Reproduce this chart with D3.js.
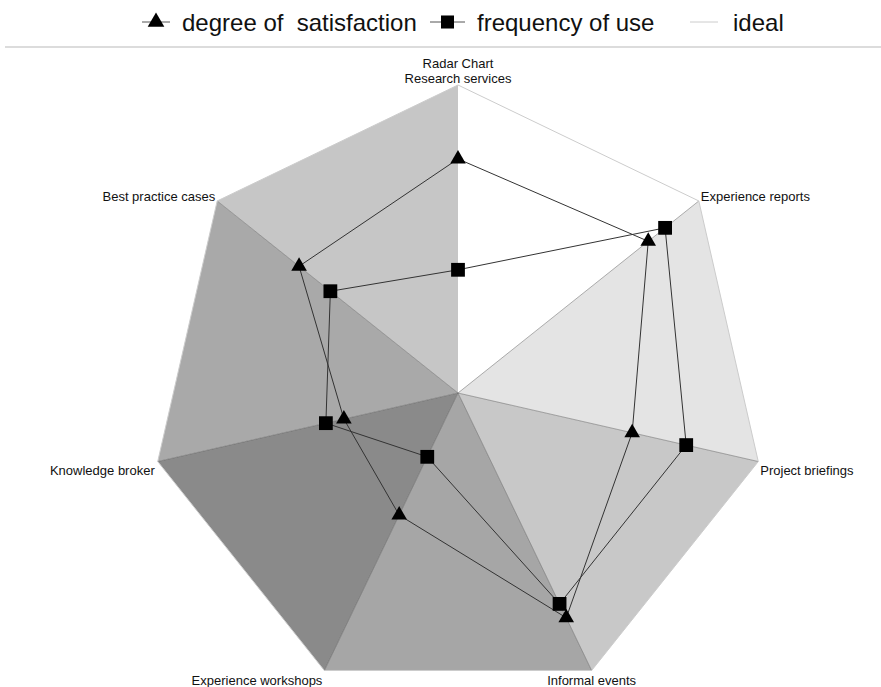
<!DOCTYPE html>
<html>
<head>
<meta charset="utf-8">
<script src="https://cdn.jsdelivr.net/npm/d3@7"></script>
<style>
  html, body { margin: 0; padding: 0; background: #fff; }
  svg { display: block; font-family: "Liberation Sans", Arial, sans-serif; }
  text { white-space: pre; }
</style>
</head>
<body>
<svg id="chart" width="881" height="687"></svg>
<script>
// Radar axes, clockwise from the top
const categories = [
  "Research services", "Experience reports", "Project briefings",
  "Informal events", "Experience workshops", "Knowledge broker",
  "Best practice cases"
];
const satisfaction = [76, 79, 58, 81, 44, 38, 66];
const frequency    = [40, 86, 76, 76, 23, 44, 53];
const ideal        = [100, 100, 100, 100, 100, 100, 100];
const seriesNames  = ["degree of  satisfaction", "frequency of use", "ideal"];
const valueDomain  = [0, 100];

// Gray shade of each wedge, starting with the wedge after each axis
const wedgeFill = ["#ffffff", "#e4e4e4", "#c8c8c8", "#a6a6a6", "#8a8a8a", "#a9a9a9", "#c6c6c6"];

const svg = d3.select("#chart");
const cx = 458, cy = 393, R = 308;
const n = categories.length;

const r = d3.scaleLinear().domain(valueDomain).range([0, R]);
const angle = d3.scaleLinear().domain([0, n]).range([0, 2 * Math.PI]);
const pt = (i, v) => d3.pointRadial(angle(i), r(v));

const g = svg.append("g").attr("transform", `translate(${cx},${cy})`);

// Wedges between neighbouring axes, out to the ideal value
g.selectAll("path.wedge")
  .data(d3.range(n))
  .join("path")
  .attr("class", "wedge")
  .attr("d", i => {
    const a = pt(i, ideal[i]), b = pt((i + 1) % n, ideal[(i + 1) % n]);
    return `M0,0L${a[0]},${a[1]}L${b[0]},${b[1]}Z`;
  })
  .attr("fill", (i) => wedgeFill[i])
  .attr("stroke", "none");

// Spokes
g.selectAll("line.spoke")
  .data(d3.range(1, n))
  .join("line")
  .attr("class", "spoke")
  .attr("x1", 0).attr("y1", 0)
  .attr("x2", i => pt(i, ideal[i])[0])
  .attr("y2", i => pt(i, ideal[i])[1])
  .attr("stroke", "#555")
  .attr("stroke-opacity", 0.45)
  .attr("stroke-width", 1);

// Ideal outline
const lineRadial = d3.lineRadial()
  .angle((d, i) => angle(i))
  .radius(d => r(d))
  .curve(d3.curveLinearClosed);

g.append("path")
  .attr("d", lineRadial(ideal))
  .attr("fill", "none")
  .attr("stroke", "#cccccc")
  .attr("stroke-width", 1);

// Data series
const series = [
  { values: satisfaction, symbol: d3.symbolTriangle, size: 105 },
  { values: frequency, symbol: d3.symbolSquare, size: 190 }
];

series.forEach(s => {
  g.append("path")
    .attr("d", lineRadial(s.values))
    .attr("fill", "none")
    .attr("stroke", "#333")
    .attr("stroke-width", 1);
});
series.forEach(s => {
  g.selectAll(null)
    .data(s.values)
    .join("path")
    .attr("transform", (d, i) => { const p = pt(i, d); return `translate(${p[0]},${p[1]})`; })
    .attr("d", d3.symbol().type(s.symbol).size(s.size))
    .attr("fill", "#000");
});

// Axis labels
const labelPos = [
  { dx: 0, dy: -2, anchor: "middle" },
  { dx: 2, dy: 0, anchor: "start" },
  { dx: 2, dy: 13, anchor: "start" },
  { dx: 0, dy: 15, anchor: "middle" },
  { dx: -2, dy: 15, anchor: "end" },
  { dx: -3, dy: 13, anchor: "end" },
  { dx: -2, dy: 0, anchor: "end" }
];
g.selectAll("text.axis-label")
  .data(categories)
  .join("text")
  .attr("class", "axis-label")
  .attr("x", (d, i) => pt(i, ideal[i])[0] + labelPos[i].dx)
  .attr("y", (d, i) => pt(i, ideal[i])[1] + labelPos[i].dy)
  .attr("text-anchor", (d, i) => labelPos[i].anchor)
  .attr("font-size", 13)
  .attr("fill", "#111")
  .text(d => d);

svg.append("text")
  .attr("x", cx).attr("y", cy - R - 17)
  .attr("text-anchor", "middle")
  .attr("font-size", 13)
  .attr("fill", "#111")
  .text("Radar Chart");

// Legend
svg.append("line")
  .attr("x1", 5).attr("x2", 881).attr("y1", 47).attr("y2", 47)
  .attr("stroke", "#dcdcdc").attr("stroke-width", 2);

const legendItems = [
  { name: seriesNames[0], x0: 142, x1: 170, tx: 182, symbol: d3.symbolTriangle, size: 120, stroke: "#555" },
  { name: seriesNames[1], x0: 430, x1: 465, tx: 477, symbol: d3.symbolSquare, size: 170, stroke: "#555" },
  { name: seriesNames[2], x0: 690, x1: 718, tx: 733, symbol: null, stroke: "#cccccc" }
];
const lg = svg.append("g").attr("transform", "translate(0,22)");
legendItems.forEach(it => {
  lg.append("line").attr("x1", it.x0).attr("x2", it.x1).attr("y1", 0).attr("y2", 0)
    .attr("stroke", it.stroke).attr("stroke-width", 1);
  if (it.symbol) {
    lg.append("path").attr("transform", `translate(${(it.x0 + it.x1) / 2},0)`)
      .attr("d", d3.symbol().type(it.symbol).size(it.size)).attr("fill", "#000");
  }
  lg.append("text").attr("x", it.tx).attr("y", 9)
    .attr("font-size", 24).attr("fill", "#111").text(it.name);
});
</script>
</body>
</html>
